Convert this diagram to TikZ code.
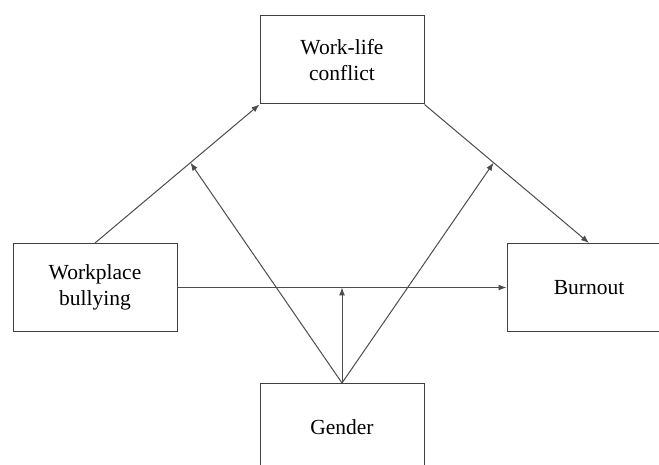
\documentclass[tikz,border=0pt]{standalone}
\usepackage{fontspec}
\setmainfont{Liberation Serif}
\usetikzlibrary{arrows.meta,calc}
\begin{document}
\begin{tikzpicture}[x=1pt,y=-1pt,
  var/.style={draw=black!75,line width=1pt,minimum width=164pt,minimum height=88pt,
    inner sep=0pt,align=center,font=\fontsize{21.5}{26}\selectfont},
  effect/.style={draw=black!70,line width=1pt,-{Latex[length=8pt,width=6pt]}}]
 \clip (0,0) rectangle (659,465);
 \node[var] (wlc) at (342,60) {Work-life\\conflict};
 \node[var] (wb) at (95,287.5) {Workplace\\bullying};
 \node[var] (bo) at (589,287.5) {Burnout};
 \node[var] (gen) at (342,427.5) {Gender};
 % paths
 \draw[effect] (wb.north) -- (wlc.south west);
 \draw[effect] (wlc.south east) -- (bo.north);
 \draw[effect] (wb.east) -- (bo.west);
 % moderation by gender
 \coordinate (m1) at ($(wb.north)!0.58!(wlc.south west)$);
 \coordinate (m2) at ($(wlc.south east)!0.42!(bo.north)$);
 \coordinate (m3) at (gen.north |- wb.east);
 \draw[effect] (gen.north) -- (m1);
 \draw[effect] (gen.north) -- (m2);
 \draw[effect] (gen.north) -- (m3);
\end{tikzpicture}
\end{document}
